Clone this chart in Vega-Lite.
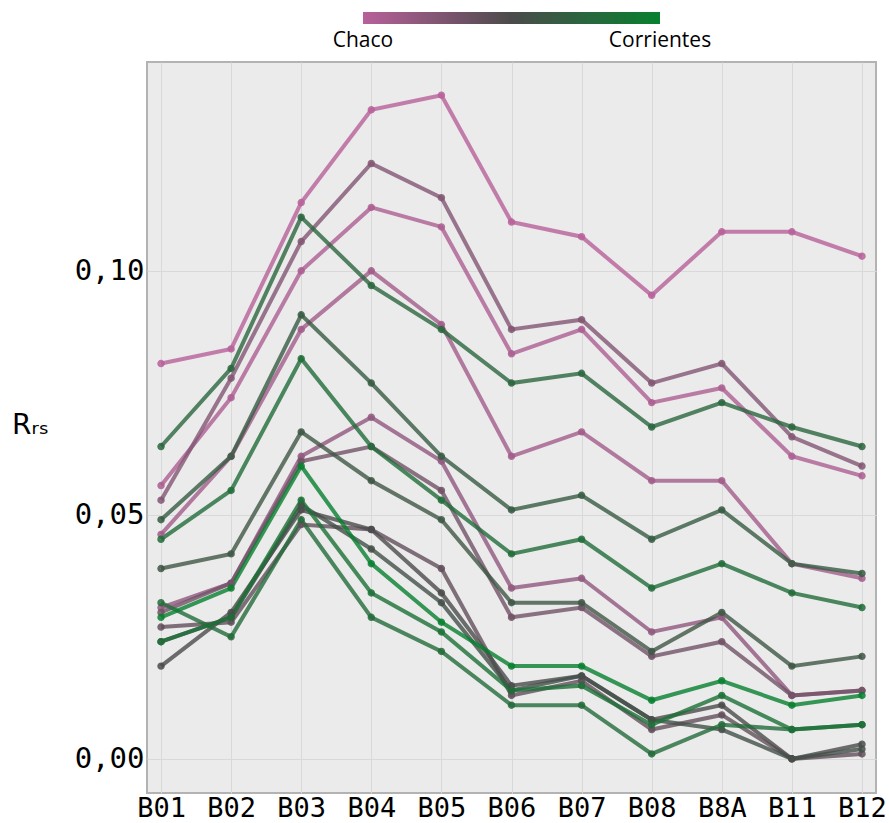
{
  "$schema": "https://vega.github.io/schema/vega-lite/v6.json",
  "width": 729,
  "height": 731,
  "autosize": {"type": "none"},
  "padding": {"left": 147, "top": 62, "right": 13, "bottom": 30},
  "background": "#ffffff",
  "datasets": {
    "rrs": [
      {"s":"A","t":0,"b":"B01","v":0.081},{"s":"A","t":0,"b":"B02","v":0.084},{"s":"A","t":0,"b":"B03","v":0.114},{"s":"A","t":0,"b":"B04","v":0.133},{"s":"A","t":0,"b":"B05","v":0.136},{"s":"A","t":0,"b":"B06","v":0.110},{"s":"A","t":0,"b":"B07","v":0.107},{"s":"A","t":0,"b":"B08","v":0.095},{"s":"A","t":0,"b":"B8A","v":0.108},{"s":"A","t":0,"b":"B11","v":0.108},{"s":"A","t":0,"b":"B12","v":0.103},
      {"s":"B","t":0.05,"b":"B01","v":0.056},{"s":"B","t":0.05,"b":"B02","v":0.074},{"s":"B","t":0.05,"b":"B03","v":0.100},{"s":"B","t":0.05,"b":"B04","v":0.113},{"s":"B","t":0.05,"b":"B05","v":0.109},{"s":"B","t":0.05,"b":"B06","v":0.083},{"s":"B","t":0.05,"b":"B07","v":0.088},{"s":"B","t":0.05,"b":"B08","v":0.073},{"s":"B","t":0.05,"b":"B8A","v":0.076},{"s":"B","t":0.05,"b":"B11","v":0.062},{"s":"B","t":0.05,"b":"B12","v":0.058},
      {"s":"C","t":0.1,"b":"B01","v":0.046},{"s":"C","t":0.1,"b":"B02","v":0.062},{"s":"C","t":0.1,"b":"B03","v":0.088},{"s":"C","t":0.1,"b":"B04","v":0.100},{"s":"C","t":0.1,"b":"B05","v":0.089},{"s":"C","t":0.1,"b":"B06","v":0.062},{"s":"C","t":0.1,"b":"B07","v":0.067},{"s":"C","t":0.1,"b":"B08","v":0.057},{"s":"C","t":0.1,"b":"B8A","v":0.057},{"s":"C","t":0.1,"b":"B11","v":0.040},{"s":"C","t":0.1,"b":"B12","v":0.037},
      {"s":"G","t":0.18,"b":"B01","v":0.031},{"s":"G","t":0.18,"b":"B02","v":0.036},{"s":"G","t":0.18,"b":"B03","v":0.062},{"s":"G","t":0.18,"b":"B04","v":0.070},{"s":"G","t":0.18,"b":"B05","v":0.061},{"s":"G","t":0.18,"b":"B06","v":0.035},{"s":"G","t":0.18,"b":"B07","v":0.037},{"s":"G","t":0.18,"b":"B08","v":0.026},{"s":"G","t":0.18,"b":"B8A","v":0.029},{"s":"G","t":0.18,"b":"B11","v":0.013},{"s":"G","t":0.18,"b":"B12","v":0.014},
      {"s":"K","t":0.25,"b":"B01","v":0.053},{"s":"K","t":0.25,"b":"B02","v":0.078},{"s":"K","t":0.25,"b":"B03","v":0.106},{"s":"K","t":0.25,"b":"B04","v":0.122},{"s":"K","t":0.25,"b":"B05","v":0.115},{"s":"K","t":0.25,"b":"B06","v":0.088},{"s":"K","t":0.25,"b":"B07","v":0.090},{"s":"K","t":0.25,"b":"B08","v":0.077},{"s":"K","t":0.25,"b":"B8A","v":0.081},{"s":"K","t":0.25,"b":"B11","v":0.066},{"s":"K","t":0.25,"b":"B12","v":0.060},
      {"s":"H","t":0.33,"b":"B01","v":0.030},{"s":"H","t":0.33,"b":"B02","v":0.036},{"s":"H","t":0.33,"b":"B03","v":0.061},{"s":"H","t":0.33,"b":"B04","v":0.064},{"s":"H","t":0.33,"b":"B05","v":0.055},{"s":"H","t":0.33,"b":"B06","v":0.029},{"s":"H","t":0.33,"b":"B07","v":0.031},{"s":"H","t":0.33,"b":"B08","v":0.021},{"s":"H","t":0.33,"b":"B8A","v":0.024},{"s":"H","t":0.33,"b":"B11","v":0.013},{"s":"H","t":0.33,"b":"B12","v":0.014},
      {"s":"M","t":0.4,"b":"B01","v":0.027},{"s":"M","t":0.4,"b":"B02","v":0.028},{"s":"M","t":0.4,"b":"B03","v":0.048},{"s":"M","t":0.4,"b":"B04","v":0.047},{"s":"M","t":0.4,"b":"B05","v":0.039},{"s":"M","t":0.4,"b":"B06","v":0.013},{"s":"M","t":0.4,"b":"B07","v":0.016},{"s":"M","t":0.4,"b":"B08","v":0.006},{"s":"M","t":0.4,"b":"B8A","v":0.009},{"s":"M","t":0.4,"b":"B11","v":0.000},{"s":"M","t":0.4,"b":"B12","v":0.001},
      {"s":"N","t":0.5,"b":"B01","v":0.019},{"s":"N","t":0.5,"b":"B02","v":0.030},{"s":"N","t":0.5,"b":"B03","v":0.051},{"s":"N","t":0.5,"b":"B04","v":0.047},{"s":"N","t":0.5,"b":"B05","v":0.034},{"s":"N","t":0.5,"b":"B06","v":0.015},{"s":"N","t":0.5,"b":"B07","v":0.017},{"s":"N","t":0.5,"b":"B08","v":0.008},{"s":"N","t":0.5,"b":"B8A","v":0.011},{"s":"N","t":0.5,"b":"B11","v":0.000},{"s":"N","t":0.5,"b":"B12","v":0.003},
      {"s":"P","t":0.55,"b":"B01","v":0.024},{"s":"P","t":0.55,"b":"B02","v":0.029},{"s":"P","t":0.55,"b":"B03","v":0.052},{"s":"P","t":0.55,"b":"B04","v":0.043},{"s":"P","t":0.55,"b":"B05","v":0.032},{"s":"P","t":0.55,"b":"B06","v":0.014},{"s":"P","t":0.55,"b":"B07","v":0.017},{"s":"P","t":0.55,"b":"B08","v":0.008},{"s":"P","t":0.55,"b":"B8A","v":0.006},{"s":"P","t":0.55,"b":"B11","v":0.000},{"s":"P","t":0.55,"b":"B12","v":0.002},
      {"s":"L","t":0.6,"b":"B01","v":0.039},{"s":"L","t":0.6,"b":"B02","v":0.042},{"s":"L","t":0.6,"b":"B03","v":0.067},{"s":"L","t":0.6,"b":"B04","v":0.057},{"s":"L","t":0.6,"b":"B05","v":0.049},{"s":"L","t":0.6,"b":"B06","v":0.032},{"s":"L","t":0.6,"b":"B07","v":0.032},{"s":"L","t":0.6,"b":"B08","v":0.022},{"s":"L","t":0.6,"b":"B8A","v":0.030},{"s":"L","t":0.6,"b":"B11","v":0.019},{"s":"L","t":0.6,"b":"B12","v":0.021},
      {"s":"E","t":0.65,"b":"B01","v":0.049},{"s":"E","t":0.65,"b":"B02","v":0.062},{"s":"E","t":0.65,"b":"B03","v":0.091},{"s":"E","t":0.65,"b":"B04","v":0.077},{"s":"E","t":0.65,"b":"B05","v":0.062},{"s":"E","t":0.65,"b":"B06","v":0.051},{"s":"E","t":0.65,"b":"B07","v":0.054},{"s":"E","t":0.65,"b":"B08","v":0.045},{"s":"E","t":0.65,"b":"B8A","v":0.051},{"s":"E","t":0.65,"b":"B11","v":0.040},{"s":"E","t":0.65,"b":"B12","v":0.038},
      {"s":"D","t":0.75,"b":"B01","v":0.064},{"s":"D","t":0.75,"b":"B02","v":0.080},{"s":"D","t":0.75,"b":"B03","v":0.111},{"s":"D","t":0.75,"b":"B04","v":0.097},{"s":"D","t":0.75,"b":"B05","v":0.088},{"s":"D","t":0.75,"b":"B06","v":0.077},{"s":"D","t":0.75,"b":"B07","v":0.079},{"s":"D","t":0.75,"b":"B08","v":0.068},{"s":"D","t":0.75,"b":"B8A","v":0.073},{"s":"D","t":0.75,"b":"B11","v":0.068},{"s":"D","t":0.75,"b":"B12","v":0.064},
      {"s":"Q","t":0.8,"b":"B01","v":0.032},{"s":"Q","t":0.8,"b":"B02","v":0.025},{"s":"Q","t":0.8,"b":"B03","v":0.049},{"s":"Q","t":0.8,"b":"B04","v":0.029},{"s":"Q","t":0.8,"b":"B05","v":0.022},{"s":"Q","t":0.8,"b":"B06","v":0.011},{"s":"Q","t":0.8,"b":"B07","v":0.011},{"s":"Q","t":0.8,"b":"B08","v":0.001},{"s":"Q","t":0.8,"b":"B8A","v":0.007},{"s":"Q","t":0.8,"b":"B11","v":0.006},{"s":"Q","t":0.8,"b":"B12","v":0.007},
      {"s":"F","t":0.82,"b":"B01","v":0.045},{"s":"F","t":0.82,"b":"B02","v":0.055},{"s":"F","t":0.82,"b":"B03","v":0.082},{"s":"F","t":0.82,"b":"B04","v":0.064},{"s":"F","t":0.82,"b":"B05","v":0.053},{"s":"F","t":0.82,"b":"B06","v":0.042},{"s":"F","t":0.82,"b":"B07","v":0.045},{"s":"F","t":0.82,"b":"B08","v":0.035},{"s":"F","t":0.82,"b":"B8A","v":0.040},{"s":"F","t":0.82,"b":"B11","v":0.034},{"s":"F","t":0.82,"b":"B12","v":0.031},
      {"s":"R","t":0.85,"b":"B01","v":0.024},{"s":"R","t":0.85,"b":"B02","v":0.029},{"s":"R","t":0.85,"b":"B03","v":0.053},{"s":"R","t":0.85,"b":"B04","v":0.034},{"s":"R","t":0.85,"b":"B05","v":0.026},{"s":"R","t":0.85,"b":"B06","v":0.014},{"s":"R","t":0.85,"b":"B07","v":0.015},{"s":"R","t":0.85,"b":"B08","v":0.007},{"s":"R","t":0.85,"b":"B8A","v":0.013},{"s":"R","t":0.85,"b":"B11","v":0.006},{"s":"R","t":0.85,"b":"B12","v":0.007},
      {"s":"Z","t":1,"b":"B01","v":0.029},{"s":"Z","t":1,"b":"B02","v":0.035},{"s":"Z","t":1,"b":"B03","v":0.060},{"s":"Z","t":1,"b":"B04","v":0.040},{"s":"Z","t":1,"b":"B05","v":0.028},{"s":"Z","t":1,"b":"B06","v":0.019},{"s":"Z","t":1,"b":"B07","v":0.019},{"s":"Z","t":1,"b":"B08","v":0.012},{"s":"Z","t":1,"b":"B8A","v":0.016},{"s":"Z","t":1,"b":"B11","v":0.011},{"s":"Z","t":1,"b":"B12","v":0.013}
    ]
  },
  "data": {"name": "rrs"},
  "encoding": {
    "x": {
      "field": "b",
      "type": "ordinal",
      "sort": ["B01","B02","B03","B04","B05","B06","B07","B08","B8A","B11","B12"],
      "scale": {"type": "point", "padding": 0.2},
      "axis": {
        "title": null,
        "labelAngle": 0,
        "ticks": false,
        "domain": false,
        "labelPadding": 2,
        "labelFontSize": 27,
        "grid": true
      }
    },
    "y": {
      "field": "v",
      "type": "quantitative",
      "scale": {"domain": [-0.007, 0.1428], "nice": false, "zero": false},
      "axis": {
        "values": [0, 0.05, 0.1],
        "labelExpr": "replace(format(datum.value, '.2f'), '.', ',')",
        "ticks": false,
        "domain": false,
        "labelPadding": 3,
        "title": "Rᵣₛ",
        "titleAngle": 0,
        "titleAlign": "center",
        "titleBaseline": "middle",
        "titleX": -117,
        "titleY": 363,
        "titleFont": "DejaVu Sans",
        "titleFontSize": 28,
        "titleFontWeight": "normal",
        "titleColor": "#000000"
      }
    },
    "color": {
      "field": "t",
      "type": "quantitative",
      "scale": {
        "domain": [0, 0.5, 1],
        "range": ["#b8609a", "#4b4b4b", "#08802f"],
        "interpolate": "rgb"
      },
      "legend": {
        "type": "gradient",
        "orient": "none",
        "direction": "horizontal",
        "legendX": 216,
        "legendY": -50,
        "title": null,
        "padding": 0,
        "values": [0, 1],
        "gradientLength": 297,
        "gradientThickness": 12,
        "gradientStrokeWidth": 0,
        "gradientOpacity": 1,
        "labelExpr": "datum.value == 0 ? 'Chaco' : 'Corrientes'",
        "labelFont": "Open Sans",
        "labelFontSize": 21,
        "labelColor": "#000000",
        "labelOffset": 6,
        "encode": {
          "labels": {"update": {"align": {"value": "center"}}},
          "gradient": {"update": {"opacity": {"value": 1}}}
        }
      }
    },
    "detail": {"field": "s", "type": "nominal"}
  },
  "layer": [
    {"mark": {"type": "line", "strokeWidth": 4, "opacity": 0.8}},
    {"mark": {"type": "point", "filled": false, "size": 12, "strokeWidth": 4, "opacity": 0.85}}
  ],
  "config": {
    "view": {"fill": "#ebebeb", "stroke": "#b3b3b3", "strokeWidth": 2},
    "axis": {
      "labelFont": "DejaVu Sans Mono",
      "labelFontSize": 29,
      "labelColor": "#000000",
      "gridColor": "#d9d9d9",
      "gridWidth": 1
    }
  }
}
